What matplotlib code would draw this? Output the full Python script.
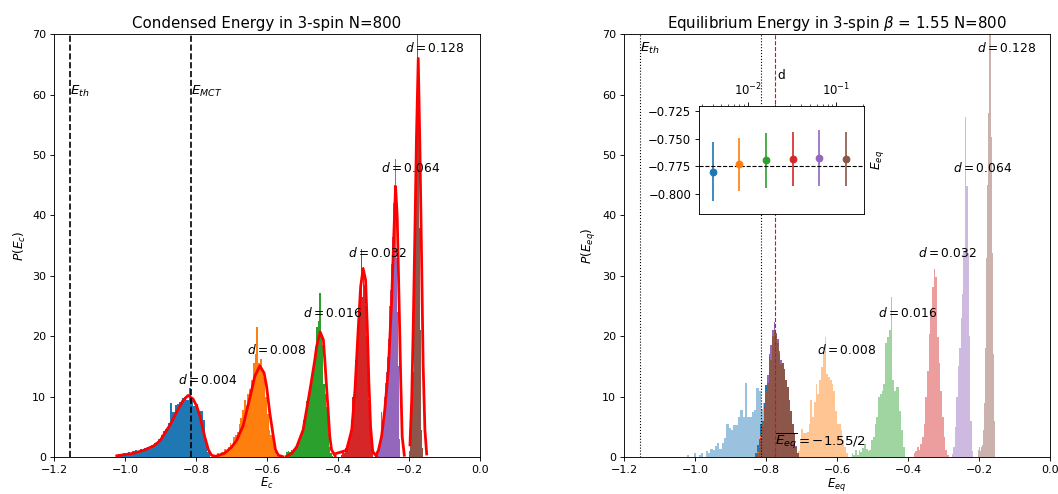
import numpy as np
import matplotlib
matplotlib.use("Agg")
from matplotlib import pyplot as plt

d_vals = [0.004, 0.008, 0.016, 0.032, 0.064, 0.128]
colors = ["C0", "C1", "C2", "C3", "C4", "C5"]
e_th = -1.1547
e_mct = -0.815
e_eq = -0.775

# left panel: condensed energy histograms (first bin edge, bin width, heights)
cond_start = [-1.025, -0.745, -0.545, -0.392, -0.295, -0.199]
cond_width = [0.0066, 0.005, 0.004, 0.003, 0.0025, 0.002]
cond_heights = [
    [0.3, 0.5, 0.3, 0.6, 0.5, 0.9, 0.6, 1.0, 1.2, 0.8, 1.3, 1.0, 1.5, 1.7, 1.3,
     2.0, 2.4, 2.2, 3.0, 3.6, 4.3, 4.6, 5.6, 8.9, 7.4, 8.6, 8.8, 9.1, 9.7, 9.9,
     9.4, 11.4, 9.6, 8.5, 8.8, 7.2, 7.6, 6.2, 3.0, 0.9],
    [0.4, 0.6, 0.5, 0.9, 0.8, 1.3, 1.2, 1.6, 2.4, 2.0, 3.3, 3.6, 4.2, 5.5, 6.4,
     7.8, 9.4, 8.6, 10.5, 11.2, 12.7, 15.5, 17.0, 21.6, 15.5, 16.2, 14.5, 13.3,
     10.0, 7.2, 4.5, 3.6, 3.3, 1.0, 0.4, 0.2],
    [0.8, 1.0, 0.9, 1.1, 0.7, 1.2, 1.5, 1.6, 2.2, 2.8, 4.1, 4.4, 6.1, 6.8, 9.2,
     9.4, 11.6, 12.4, 13.0, 15.5, 18.2, 21.5, 22.6, 27.1, 19.9, 18.5, 12.1, 10.5,
     8.3, 3.9, 1.7, 0.6, 0.2],
    [0.4, 0.8, 1.2, 0.6, 1.5, 1.9, 1.4, 2.6, 3.3, 4.5, 6.1, 10.0, 12.5, 16.0,
     18.2, 19.4, 21.0, 24.0, 26.0, 34.5, 26.5, 31.5, 28.5, 25.0, 20.0, 15.0, 9.5,
     5.0, 2.2, 0.6],
    [0.4, 0.3, 0.8, 1.0, 1.5, 2.0, 3.0, 7.5, 5.0, 7.5, 10.0, 12.2, 14.0, 16.6,
     19.5, 22.0, 25.0, 27.6, 32.0, 36.5, 42.0, 45.0, 49.4, 41.0, 33.0, 24.0, 15.0,
     3.0],
    [1.0, 3.4, 3.0, 6.0, 11.6, 14.0, 21.0, 28.0, 37.6, 46.0, 58.0, 75.0, 64.0,
     53.0, 38.0, 21.0, 10.0, 4.5, 1.5, 0.4],
]

# red fitted curves on the left panel
fit_e = [
    [-1.023, -0.977, -0.948, -0.920, -0.901, -0.885, -0.873, -0.854, -0.836,
     -0.822, -0.808, -0.797, -0.789, -0.781, -0.775, -0.765, -0.756, -0.745],
    [-0.745, -0.72, -0.70, -0.685, -0.667, -0.648, -0.634, -0.620, -0.608,
     -0.601, -0.592, -0.582, -0.576, -0.568, -0.555],
    [-0.545, -0.530, -0.516, -0.498, -0.479, -0.465, -0.460, -0.450, -0.441,
     -0.437, -0.432, -0.427, -0.423, -0.418, -0.408],
    [-0.404, -0.376, -0.361, -0.352, -0.343, -0.336, -0.329, -0.322, -0.317,
     -0.313, -0.308, -0.302, -0.291],
    [-0.291, -0.286, -0.277, -0.268, -0.258, -0.249, -0.242, -0.2376, -0.233,
     -0.228, -0.223, -0.219, -0.213],
    [-0.197, -0.192, -0.188, -0.183, -0.1787, -0.1737, -0.169, -0.164, -0.160,
     -0.155, -0.150],
]
fit_p = [
    [0.2, 0.6, 1.1, 1.8, 2.7, 4.2, 5.3, 7.5, 9.4, 10.2, 9.6, 8.3, 6.8, 4.8, 3.3,
     1.2, 0.3, 0.1],
    [0.1, 0.6, 1.6, 2.8, 5.2, 9.8, 13.4, 15.1, 13.9, 11.7, 7.3, 3.4, 1.2, 0.3, 0.05],
    [0.1, 0.6, 1.7, 4.5, 11.0, 16.1, 18.3, 20.7, 19.4, 16.1, 11.6, 7.2, 3.4, 1.2, 0.2],
    [0.6, 1.1, 4.5, 11.1, 21.0, 28.2, 31.2, 29.3, 21.0, 12.7, 5.0, 0.9, 0.1],
    [0.5, 1.1, 3.4, 7.8, 14.4, 25.4, 37.6, 44.8, 39.8, 26.5, 12.7, 3.4, 0.3],
    [2.0, 9.8, 21.0, 37.6, 53.0, 66.0, 51.0, 31.7, 15.5, 4.5, 0.5],
]

# right panel: light histograms
light_start = [-1.022, -0.710, -0.559, -0.384, -0.276, -0.2035]
light_width = [0.0065, 0.005, 0.005, 0.0047, 0.004, 0.003]
light_heights = [
    [0.4, 0.0, 0.0, 0.7, 0.0, 0.4, 0.7, 0.0, 1.0, 0.6, 1.4, 1.2, 1.8, 2.3, 1.4,
     2.4, 3.2, 5.5, 4.8, 4.5, 5.3, 5.3, 6.6, 7.8, 6.6, 12.2, 6.6, 6.6, 7.5, 7.8,
     11.4, 11.0, 8.0, 9.0, 7.0, 6.0, 4.0, 2.0],
    [1.0, 3.0, 4.6, 3.9, 3.9, 4.2, 5.5, 9.4, 6.6, 9.1, 12.1, 10.5, 12.7, 14.9,
     17.0, 19.9, 13.8, 13.2, 12.7, 12.1, 11.0, 7.7, 5.5, 5.5, 4.4, 2.8, 1.7, 0.6],
    [0.6, 0.3, 1.1, 0.4, 1.1, 0.8, 1.5, 2.2, 1.4, 1.0, 1.2, 2.8, 3.3, 5.5, 6.6,
     9.9, 10.5, 11.0, 12.1, 18.8, 19.9, 21.0, 26.5, 12.7, 11.0, 11.6, 11.6, 7.7,
     4.4, 1.7],
    [0.6, 1.0, 1.7, 1.2, 2.2, 3.3, 5.5, 9.9, 14.3, 20.4, 24.3, 28.2, 31.2, 29.8,
     19.9, 15.5, 11.0, 6.6, 3.3, 1.1, 0.3],
    [0.5, 1.6, 5.0, 10.0, 15.0, 18.0, 23.0, 27.0, 34.0, 56.3, 44.8, 33.8, 20.0,
     6.0, 1.0],
    [1.2, 1.6, 1.0, 1.6, 2.0, 4.4, 9.0, 18.0, 33.0, 45.0, 57.0, 75.0, 53.0, 33.8,
     17.0, 6.0],
]

# right panel: equilibrium energy histograms (same bins for every d)
eq_start = -0.830
eq_width = 0.0047
eq_heights = [
    [0.6, 2.0, 3.0, 5.5, 6.0, 9.0, 11.9, 11.0, 14.0, 16.0, 17.0, 19.0, 18.0,
     16.5, 15.0, 13.0, 12.0, 11.0, 9.0, 7.0, 5.5, 3.5, 2.0, 1.0, 0.4, 0.0],
    [0.2, 0.8, 1.5, 3.5, 5.5, 8.0, 10.0, 12.0, 15.0, 17.0, 18.5, 20.0, 19.0,
     17.5, 16.0, 15.6, 13.5, 12.0, 11.0, 9.5, 8.0, 6.0, 4.0, 2.5, 1.2, 0.4],
    [0.3, 0.7, 2.0, 3.0, 5.5, 7.5, 10.5, 13.0, 15.5, 17.5, 19.0, 20.5, 19.5,
     18.0, 16.5, 15.0, 14.0, 12.5, 11.5, 10.0, 8.0, 6.0, 4.5, 3.0, 1.5, 0.6],
    [0.2, 0.6, 1.8, 3.2, 5.2, 8.2, 10.8, 13.0, 16.0, 18.0, 19.5, 20.5, 20.0,
     18.5, 17.5, 15.8, 15.0, 14.0, 12.5, 11.0, 9.0, 7.2, 5.0, 3.5, 1.5, 0.5],
    [0.3, 0.5, 1.6, 3.0, 5.0, 8.0, 11.0, 13.5, 17.0, 18.5, 21.0, 22.4, 20.5,
     19.5, 17.5, 16.0, 15.0, 14.0, 12.5, 11.5, 9.5, 7.5, 5.5, 3.8, 1.8, 0.7],
    [0.3, 0.6, 1.5, 3.0, 5.0, 8.0, 11.0, 12.2, 16.6, 16.0, 20.0, 21.0, 20.3,
     18.9, 17.0, 15.4, 15.6, 14.6, 12.7, 11.6, 9.4, 7.7, 5.5, 3.9, 1.7, 0.6],
]

# label positions (data coords, left edge of text)
label_x_left = [-0.851, -0.656, -0.499, -0.372, -0.279, -0.211]
label_x_right = [None, -0.655, -0.485, -0.372, -0.273, -0.206]
label_y = [12.8, 17.8, 23.8, 33.8, 47.8, 67.8]

# inset: mean equilibrium energy vs d
eq_mean = [-0.780, -0.7732, -0.7696, -0.7683, -0.7674, -0.7683]
eq_err = [0.0267, 0.0237, 0.025, 0.024, 0.025, 0.024]


def draw_hist(ax, start, width, heights, **kw):
    heights = np.asarray(heights)
    edges = start + width * np.arange(len(heights) + 1)
    centers = 0.5 * (edges[:-1] + edges[1:])
    ax.hist(centers, bins=edges, weights=heights, **kw)


fig = plt.figure(figsize=(1058 / 80, 494 / 80), dpi=80)
ax1 = fig.add_axes([0.0510, 0.0749, 0.4026, 0.8557])
ax2 = fig.add_axes([0.5898, 0.0749, 0.4026, 0.8557])

# ---- left panel
for i in range(6):
    draw_hist(ax1, cond_start[i], cond_width[i], cond_heights[i], color=colors[i])
    ax1.plot(fit_e[i], fit_p[i], color="red", lw=2.5)
    ax1.text(label_x_left[i], label_y[i], "$d = %s$" % d_vals[i],
             ha="left", va="center", fontsize=11)
ax1.axvline(e_th, color="k", ls="--", lw=1.5)
ax1.axvline(e_mct, color="k", ls="--", lw=1.5)
ax1.text(e_th, 60, "$E_{th}$", fontsize=12)
ax1.text(e_mct, 60, "$E_{MCT}$", fontsize=12)
ax1.set_xlim(-1.2, 0.0)
ax1.set_ylim(0, 70)
ax1.set_xlabel("$E_c$", fontsize=10.5, labelpad=1)
ax1.set_ylabel("$P(E_c)$", fontsize=11)
ax1.set_title("Condensed Energy in 3-spin N=800", fontsize=13.5)

# ---- right panel
for i in range(6):
    draw_hist(ax2, light_start[i], light_width[i], light_heights[i],
              color=colors[i], alpha=0.45)
for i in range(6):
    draw_hist(ax2, eq_start, eq_width, eq_heights[i], color=colors[i])
for i in range(1, 6):
    ax2.text(label_x_right[i], label_y[i], "$d = %s$" % d_vals[i],
             ha="left", va="center", fontsize=11)
ax2.axvline(e_th, color="k", ls=":", lw=1)
ax2.axvline(e_mct, color="k", ls=":", lw=1)
ax2.axvline(e_eq, color="red", ls="--", lw=1)
ax2.text(e_th, 67, "$E_{th}$", fontsize=12)
ax2.text(e_eq, 2, r"$\overline{E_{eq}} = -1.55/2$", fontsize=12)
ax2.set_xlim(-1.2, 0.0)
ax2.set_ylim(0, 70)
ax2.set_xlabel("$E_{eq}$", fontsize=10.5, labelpad=1)
ax2.set_ylabel("$P(E_{eq})$", fontsize=11)
ax2.set_title(r"Equilibrium Energy in 3-spin $\beta$ = 1.55 N=800", fontsize=13.5)

# ---- inset
axin = fig.add_axes([0.6607, 0.5668, 0.1560, 0.2186])
for i in range(6):
    axin.errorbar(d_vals[i], eq_mean[i], yerr=eq_err[i], fmt="o",
                  color=colors[i], ms=6, lw=1.5)
axin.axhline(e_eq, color="k", ls="--", lw=1)
axin.set_xscale("log")
axin.set_xlim(0.0028, 0.205)
axin.set_ylim(-0.818, -0.7205)
axin.set_yticks([-0.8, -0.775, -0.75, -0.725])
axin.tick_params(labelsize=10.5)
axin.xaxis.tick_top()
axin.xaxis.set_label_position("top")
axin.set_xlabel("d", labelpad=2, fontsize=11)
axin.yaxis.set_label_position("right")
axin.set_ylabel("$E_{eq}$", fontsize=11)

fig.savefig("out.png", dpi=80)
